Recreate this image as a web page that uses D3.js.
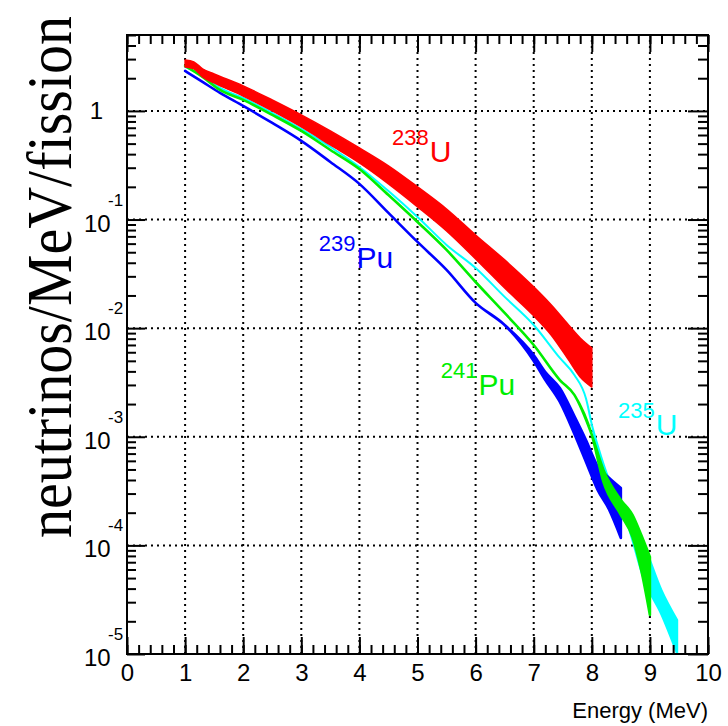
<!DOCTYPE html>
<html><head><meta charset="utf-8">
<script src="https://cdn.jsdelivr.net/npm/d3@7"></script>
<style>body{margin:0;background:#fff} svg{display:block}</style>
</head><body>
<svg id="c" width="728" height="726"></svg>
<script>
// ---------- data ----------
const energyTickLabels = ['0','1','2','3','4','5','6','7','8','9','10'];
const decadeTicks = [1e-5, 1e-4, 1e-3, 1e-2, 1e-1, 1];
const decadeExponents = ['-5','-4','-3','-2','-1',''];

// 238U band
const u238E  = [1.0, 1.15, 1.3, 1.5, 2.0, 2.5, 3.0, 3.5, 4.0, 4.5, 5.0, 5.5, 6.0, 6.5, 7.0, 7.3, 7.6, 7.8, 8.0];
const u238Hi = [2.95, 2.83, 2.44, 2.19, 1.70, 1.26, 0.919, 0.654, 0.456, 0.312, 0.200, 0.125, 0.0721, 0.0425, 0.0240, 0.0164, 0.0107, 0.00813, 0.00657];
const u238Lo = [2.54, 2.44, 2.06, 1.81, 1.37, 1.00, 0.712, 0.486, 0.332, 0.213, 0.131, 0.0785, 0.0434, 0.0234, 0.0130, 0.00866, 0.00510, 0.00355, 0.00287];

// 235U
const u235E  = [1.0, 1.3, 1.6, 2.0, 2.5, 3.0, 3.5, 4.0, 4.5, 5.0, 5.5, 6.0, 6.5, 7.0, 7.45, 7.7, 7.9, 8.0, 8.1, 8.3, 8.6, 8.9, 9.2, 9.47];
const u235Hi = [2.54, 2.10, 1.628, 1.317, 0.958, 0.683, 0.466, 0.305, 0.183, 0.1057, 0.0584, 0.0358, 0.0194, 0.0107, 0.00532, 0.00371, 0.00225, 0.00130, 0.000840, 0.000400, 0.000212, 0.000101, 3.88e-5, 2.06e-5];
const u235Lo = [2.54, 2.10, 1.628, 1.317, 0.958, 0.683, 0.466, 0.305, 0.183, 0.1057, 0.0584, 0.0358, 0.0194, 0.0107, 0.00532, 0.00371, 0.00225, 0.00130, 0.000724, 0.000324, 0.000164, 4.80e-5, 2.29e-5, 1.0e-5];

// 239Pu
const pu239E  = [1.0, 1.3, 1.6, 2.0, 2.5, 3.0, 3.5, 4.0, 4.5, 5.0, 5.5, 6.0, 6.5, 7.0, 7.2, 7.45, 7.7, 7.9, 8.1, 8.3, 8.5];
const pu239Hi = [2.335, 1.849, 1.465, 1.112, 0.775, 0.530, 0.339, 0.213, 0.115, 0.0622, 0.0344, 0.0171, 0.0107, 0.00567, 0.00395, 0.00281, 0.00155, 0.000934, 0.000538, 0.000418, 0.000338];
const pu239Lo = [2.335, 1.849, 1.465, 1.112, 0.775, 0.530, 0.339, 0.213, 0.115, 0.0622, 0.0344, 0.0171, 0.0107, 0.00499, 0.00333, 0.00209, 0.00106, 0.000586, 0.000324, 0.000212, 0.000117];

// 241Pu
const pu241E  = [1.0, 1.3, 1.6, 2.0, 2.5, 3.0, 3.5, 4.0, 4.5, 5.0, 5.5, 6.0, 6.5, 7.0, 7.45, 7.7, 8.0, 8.2, 8.5, 8.7, 8.85, 9.0];
const pu241Hi = [2.597, 2.057, 1.561, 1.263, 0.919, 0.654, 0.437, 0.292, 0.168, 0.0950, 0.0525, 0.0266, 0.0138, 0.00700, 0.00333, 0.00243, 0.00104, 0.000495, 0.000262, 0.000191, 0.000125, 7.82e-5];
const pu241Lo = [2.597, 2.057, 1.561, 1.263, 0.919, 0.654, 0.437, 0.292, 0.168, 0.0950, 0.0525, 0.0266, 0.0138, 0.00700, 0.00333, 0.00243, 0.00104, 0.000384, 0.000191, 0.000120, 5.94e-5, 2.29e-5];

// isotope labels
const isoNames  = ['238', '239', '241', '235'];
const isoElems  = ['U', 'Pu', 'Pu', 'U'];
const isoLabelE = [4.56, 3.3, 5.4, 8.45];
const isoLabelV = [0.339, 0.0358, 0.00243, 0.00103];
const isoColors = ['#ff0000', '#0000ff', '#00ee00', '#00ffff'];

// ---------- drawing ----------
const svg = d3.select('#c');
const L = 127, R = 708, T = 35, B = 654;
const x = d3.scaleLinear().domain([0, 10]).range([L, R]);
const y = d3.scaleLog().domain([1e-5, 5]).range([B, T]);

svg.append('rect').attr('width', 728).attr('height', 726).attr('fill', '#fff');

// grid
const grid = svg.append('g').attr('stroke', '#000').attr('stroke-width', 2).attr('stroke-dasharray', '2,4');
grid.selectAll('.gx').data(d3.range(1, 10)).join('line')
  .attr('x1', d => x(d)).attr('x2', d => x(d)).attr('y1', B).attr('y2', T);
grid.selectAll('.gy').data(decadeTicks.filter(d => d > 1e-5)).join('line')
  .attr('y1', d => y(d)).attr('y2', d => y(d)).attr('x1', L).attr('x2', R);

// series
function band(E, hi, lo) { return E.map((e, i) => ({e, hi: hi[i], lo: lo[i]})); }
const series = [
  {d: band(u235E, u235Hi, u235Lo), c: '#00ffff', w: 2},
  {d: band(pu239E, pu239Hi, pu239Lo), c: '#0000ff', w: 2.6},
  {d: band(pu241E, pu241Hi, pu241Lo), c: '#00ee00', w: 2.6},
  {d: band(u238E, u238Hi, u238Lo), c: '#ff0000', w: 1.5}
];
svg.append('clipPath').attr('id', 'clip').append('rect')
  .attr('x', L).attr('y', T).attr('width', R - L).attr('height', B - T);
const area = d3.area().x(d => x(d.e)).y0(d => y(d.lo)).y1(d => y(d.hi)).curve(d3.curveMonotoneX);
const gS = svg.append('g').attr('clip-path', 'url(#clip)');
series.forEach(s => {
  gS.append('path').datum(s.d).attr('d', area)
    .attr('fill', s.c).attr('stroke', s.c).attr('stroke-width', s.w).attr('stroke-linejoin', 'round');
});

// axes (ticks inward)
const fontSans = 'Liberation Sans, Arial, Helvetica, sans-serif';
const xMinor = d3.range(0, 10.001, 0.2);
const yMinor = [];
decadeTicks.forEach(d => { for (let k = 2; k <= 9; k++) if (k * d <= 5.0001) yMinor.push(k * d); });

function styleAxis(g) { g.select('.domain').remove(); g.selectAll('line').attr('stroke', '#000').attr('stroke-width', 2); }

svg.append('g').attr('transform', `translate(0,${B})`)
  .call(d3.axisBottom(x).tickValues(xMinor).tickSize(-9).tickFormat('')).call(styleAxis);
svg.append('g').attr('transform', `translate(0,${B})`)
  .call(d3.axisBottom(x).tickValues(d3.range(0, 11)).tickSize(-17).tickPadding(10)
    .tickFormat((d, i) => energyTickLabels[i])).call(styleAxis)
  .selectAll('text').attr('font-family', fontSans).attr('font-size', 24).attr('fill', '#000');
svg.append('g').attr('transform', `translate(0,${T})`)
  .call(d3.axisTop(x).tickValues(xMinor).tickSize(-9).tickFormat('')).call(styleAxis);
svg.append('g').attr('transform', `translate(0,${T})`)
  .call(d3.axisTop(x).tickValues(d3.range(0, 11)).tickSize(-17).tickFormat('')).call(styleAxis);

svg.append('g').attr('transform', `translate(${L},0)`)
  .call(d3.axisLeft(y).tickValues(yMinor).tickSize(-9).tickFormat('')).call(styleAxis);
svg.append('g').attr('transform', `translate(${L},0)`)
  .call(d3.axisLeft(y).tickValues(decadeTicks).tickSize(-18).tickFormat('')).call(styleAxis);
svg.append('g').attr('transform', `translate(${R},0)`)
  .call(d3.axisRight(y).tickValues(yMinor).tickSize(-10).tickFormat('')).call(styleAxis);
svg.append('g').attr('transform', `translate(${R},0)`)
  .call(d3.axisRight(y).tickValues(decadeTicks).tickSize(-20).tickFormat('')).call(styleAxis);

// frame
svg.append('rect').attr('x', L).attr('y', T).attr('width', R - L).attr('height', B - T)
  .attr('fill', 'none').attr('stroke', '#000').attr('stroke-width', 2);

// y tick labels
const yl = svg.append('g').attr('font-family', fontSans).attr('fill', '#000');
decadeTicks.forEach((d, i) => {
  if (decadeExponents[i] === '') {
    yl.append('text').attr('x', 103).attr('y', y(d) + 8).attr('text-anchor', 'end').attr('font-size', 24).text('1');
  } else {
    yl.append('text').attr('x', 84).attr('y', y(d) + 12).attr('font-size', 24).text('10');
    yl.append('text').attr('x', 108).attr('y', y(d) - 14).attr('font-size', 17).text(decadeExponents[i]);
  }
});

// x title
svg.append('text').attr('x', 708).attr('y', 718).attr('text-anchor', 'end')
  .attr('font-family', fontSans).attr('font-size', 22).attr('fill', '#000').text('Energy (MeV)');

// y title (condensed along its direction to fit the reference length)
const yTitle = svg.append('text')
  .attr('font-family', 'Liberation Serif, DejaVu Serif, serif').attr('font-size', 64)
  .attr('fill', '#000').text('neutrinos/MeV/fission');
const natural = yTitle.node().getComputedTextLength();
const sx = 522 / natural;
yTitle.attr('transform', `translate(71,538) rotate(-90) scale(${sx},1)`);

// isotope labels
isoNames.forEach((n, i) => {
  const t = svg.append('text').attr('x', x(isoLabelE[i])).attr('y', y(isoLabelV[i]))
    .attr('font-family', fontSans).attr('fill', isoColors[i]);
  t.append('tspan').attr('font-size', 22).attr('dy', -17).text(n);
  t.append('tspan').attr('font-size', 30).attr('dy', 17).attr('dx', 1).text(isoElems[i]);
});
</script>
</body></html>
